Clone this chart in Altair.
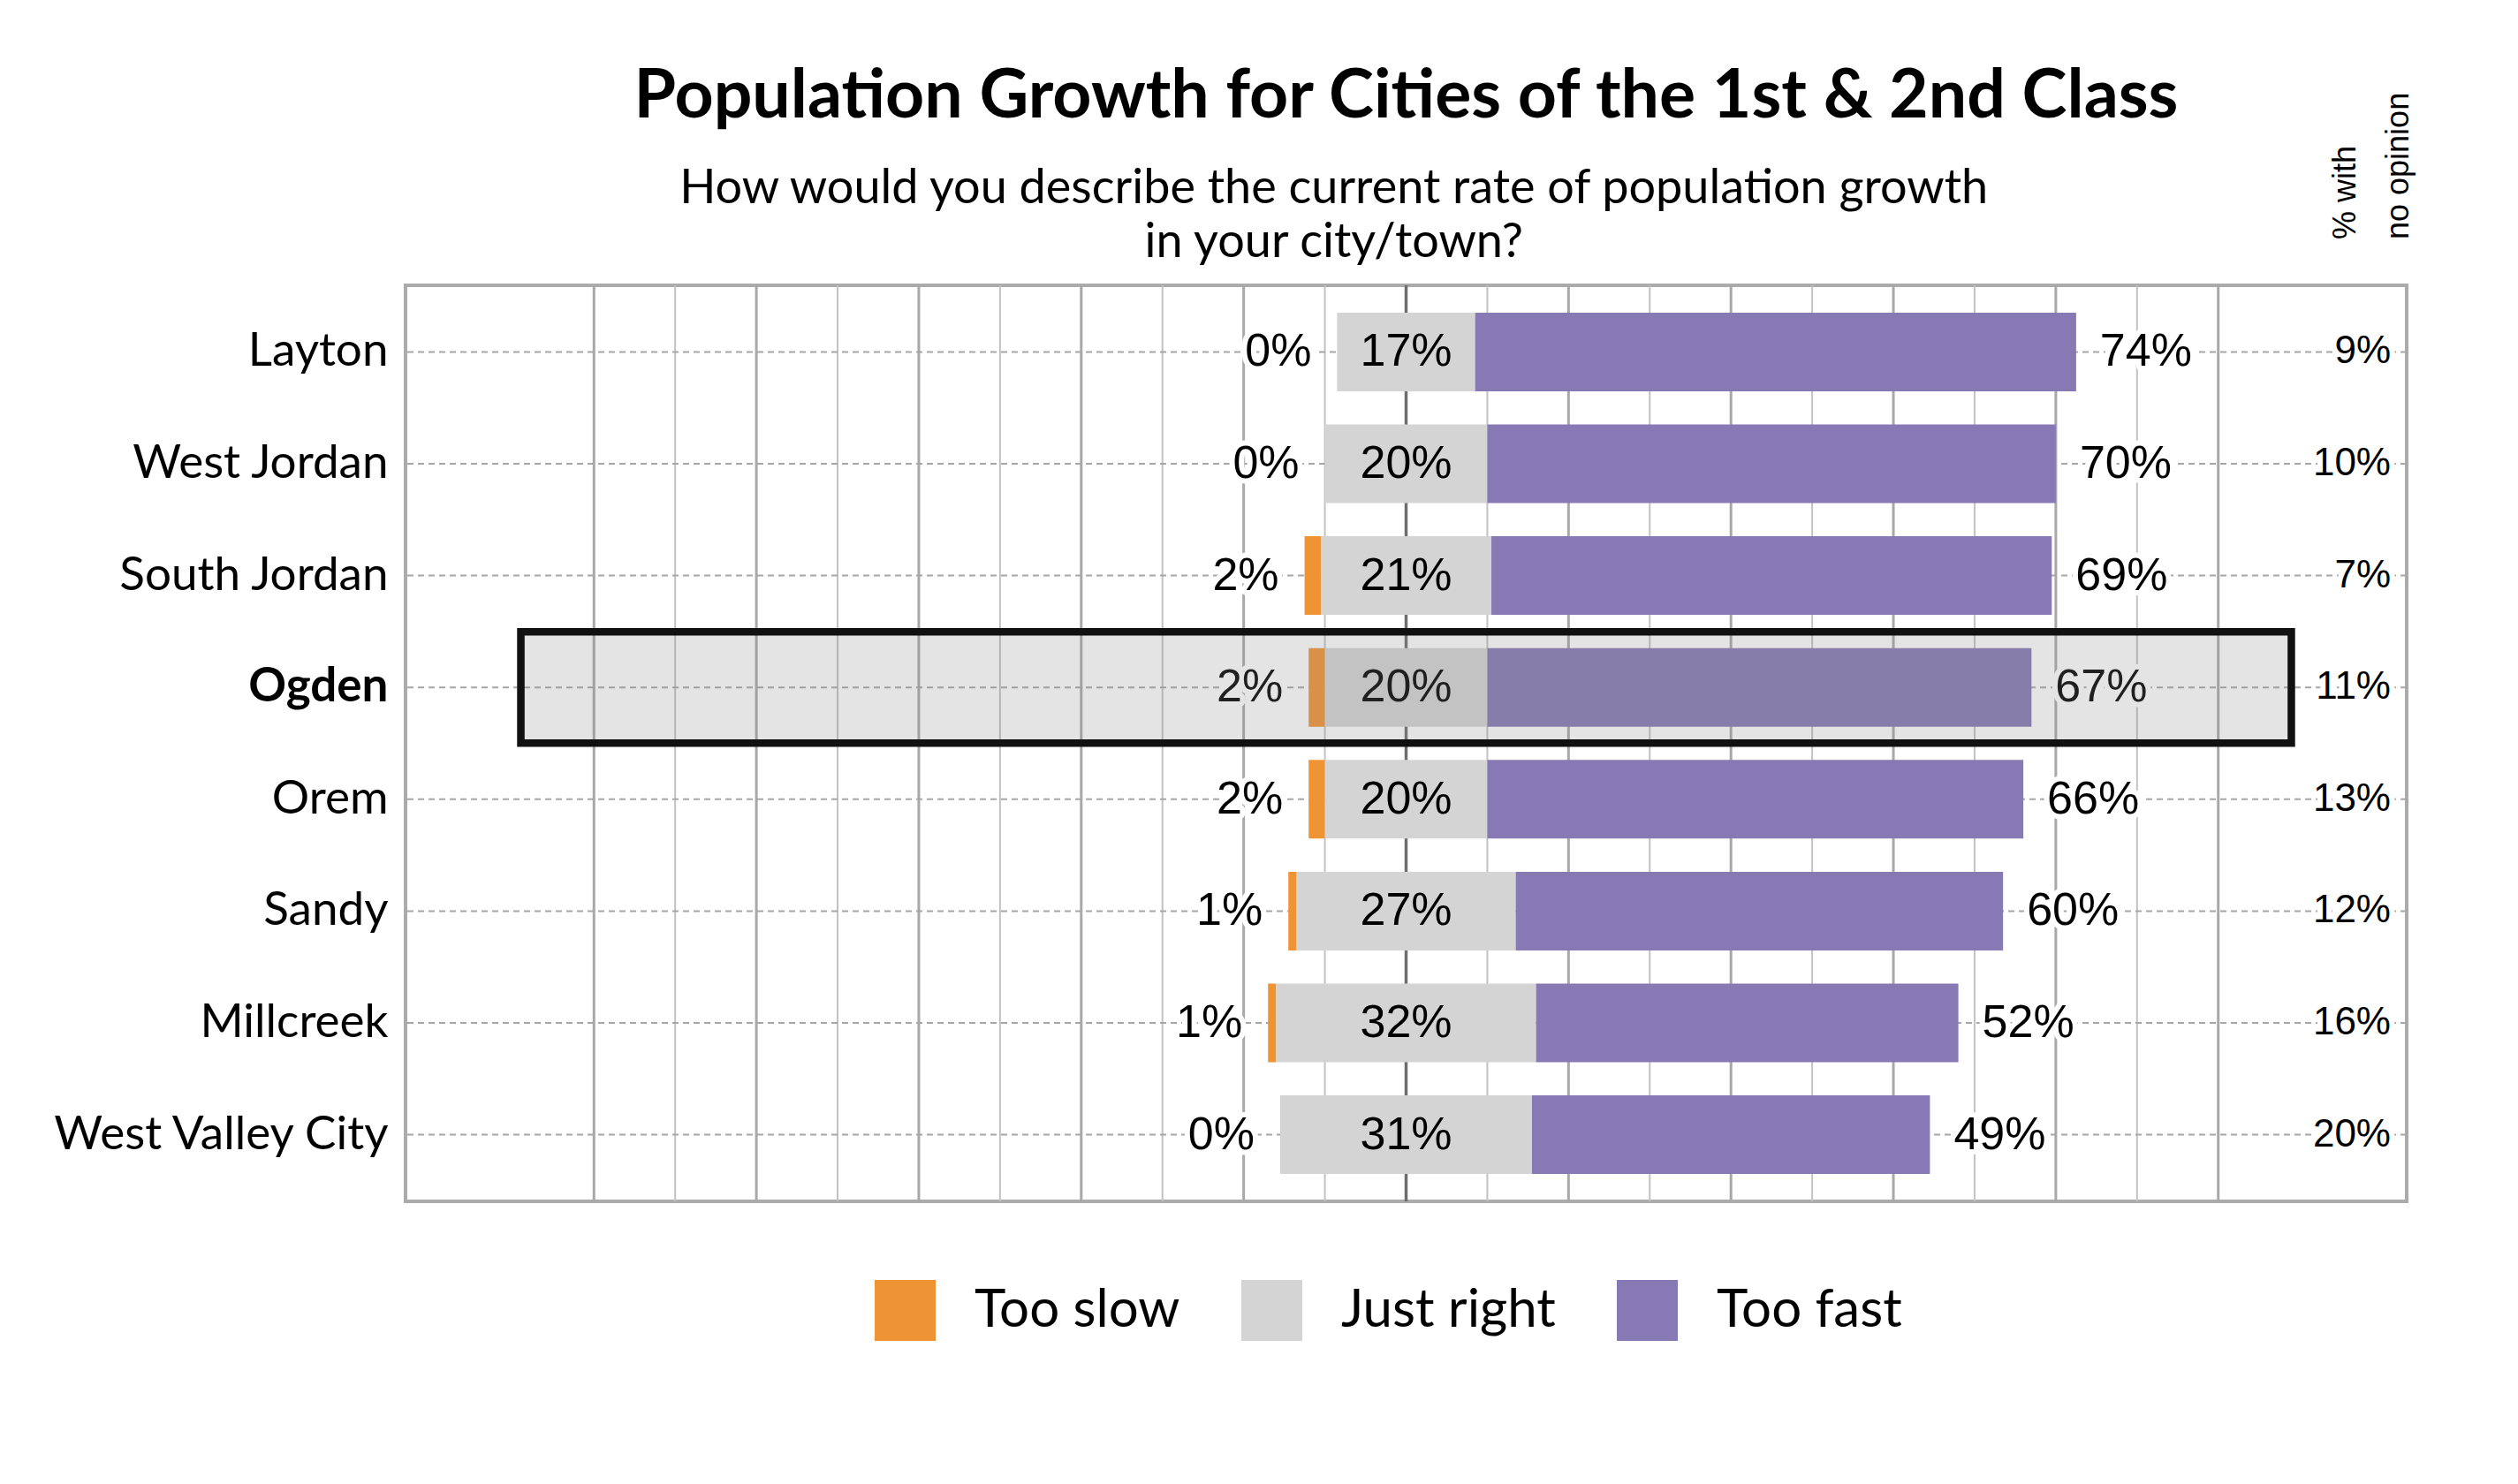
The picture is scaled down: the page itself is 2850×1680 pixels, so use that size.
import altair as alt
import pandas as pd

# ---------------- data ----------------
cities = ["Layton", "West Jordan", "South Jordan", "Ogden", "Orem",
          "Sandy", "Millcreek", "West Valley City"]
too_slow = [0, 0, 2, 2, 2, 1, 1, 0]
just_right = [17, 20, 21, 20, 20, 27, 32, 31]
too_fast = [74, 70, 69, 67, 66, 60, 52, 49]
no_opinion = [9, 10, 7, 11, 13, 12, 16, 20]

categories = ["Too slow", "Just right", "Too fast"]
colors = ["#ee9434", "#d4d4d4", "#8779b4"]

grid_values = list(range(-100, 101, 10))
x_domain = [-123.2, 123.2]

highlight_city = "Ogden"
highlight_extent = 109

title_text = "Population Growth for Cities of the 1st & 2nd Class"
subtitle_lines = ["How would you describe the current rate of population growth",
                  "in your city/town?"]
header_lines = ["% with", "no opinion"]

# ---------------- tables ----------------
rows = []
for c, s, j, f in zip(cities, too_slow, just_right, too_fast):
    left = -j / 2
    rows.append(dict(city=c, cat="Too slow", start=left - s, end=left))
    rows.append(dict(city=c, cat="Just right", start=left, end=j / 2))
    rows.append(dict(city=c, cat="Too fast", start=j / 2, end=j / 2 + f))
bars = pd.DataFrame(rows)

labels = pd.DataFrame({
    "city": cities,
    "slow_x": [-j / 2 - s for s, j in zip(too_slow, just_right)],
    "mid_x": [0.0] * len(cities),
    "fast_x": [j / 2 + f for j, f in zip(just_right, too_fast)],
    "slow_t": [f"{v}%" for v in too_slow],
    "jr_t": [f"{v}%" for v in just_right],
    "fast_t": [f"{v}%" for v in too_fast],
    "no_t": [f"{v}%" for v in no_opinion],
})

grid_df = pd.DataFrame({"v": grid_values})
hl_df = pd.DataFrame({"city": [highlight_city],
                      "x0": [-highlight_extent], "x1": [highlight_extent]})

# ---------------- encodings ----------------
xs = alt.Scale(domain=x_domain, nice=False, zero=False)
y_enc = alt.Y(
    "city:N", sort=cities,
    scale=alt.Scale(domain=cities, paddingInner=0.297, paddingOuter=0.244),
    axis=alt.Axis(
        title=None, domain=False, ticks=False, tickSize=0, grid=False,
        labelFont="Lato", labelFontSize=53, labelColor="black",
        labelPadding=20, labelLimit=1000,
        labelFontWeight={"condition": {"test": "datum.value === 'Ogden'", "value": "bold"},
                         "value": "normal"},
    ),
)

NUMFONT = "Liberation Sans"
NUMSIZE = 52

# grid
grid_minor = alt.Chart(grid_df).transform_filter("datum.v % 20 !== 0").mark_rule(
    color="#c2c2c2", strokeWidth=2).encode(x=alt.X("v:Q", scale=xs, axis=None))
grid_major = alt.Chart(grid_df).transform_filter("datum.v % 20 === 0 && datum.v !== 0").mark_rule(
    color="#a8a8a8", strokeWidth=3).encode(x=alt.X("v:Q", scale=xs, axis=None))
grid_zero = alt.Chart(grid_df).transform_filter("datum.v === 0").mark_rule(
    color="#6e6e6e", strokeWidth=3.5).encode(x=alt.X("v:Q", scale=xs, axis=None))

row_rules = alt.Chart(labels).mark_rule(
    color="#a6a6a6", strokeWidth=2, strokeDash=[7, 5]).encode(y=y_enc)

bar_layer = alt.Chart(bars).mark_bar(opacity=1).encode(
    y=y_enc,
    x=alt.X("start:Q", scale=xs, axis=None),
    x2="end:Q",
    color=alt.Color(
        "cat:N",
        scale=alt.Scale(domain=categories, range=colors),
        legend=alt.Legend(
            orient="none", legendX=531, legendY=1126, direction="horizontal",
            title=None, symbolType="square", symbolSize=4761, symbolStrokeWidth=0,
            symbolOpacity=1, labelFont="Lato", labelFontSize=60, labelColor="black",
            labelOffset=44, columnPadding=69, padding=0, labelLimit=1000,
        ),
    ),
)

halo = dict(fill="white", stroke="white", strokeWidth=12, strokeJoin="round",
            font=NUMFONT, fontSize=NUMSIZE, baseline="middle")
txt = dict(color="black", font=NUMFONT, fontSize=NUMSIZE, baseline="middle")

base_lab = alt.Chart(labels)

slow_halo = base_lab.mark_text(align="right", dx=-29, **halo).encode(
    y=y_enc, x=alt.X("slow_x:Q", scale=xs, axis=None), text="slow_t:N")
fast_halo = base_lab.mark_text(align="left", dx=27, **halo).encode(
    y=y_enc, x=alt.X("fast_x:Q", scale=xs, axis=None), text="fast_t:N")
no_halo = base_lab.mark_text(align="right", dx=-18, fill="white", stroke="white",
                             strokeWidth=12, strokeJoin="round", font=NUMFONT,
                             fontSize=44, baseline="middle").encode(
    y=y_enc, x=alt.value("width"), text="no_t:N")

slow_txt = base_lab.mark_text(align="right", dx=-29, **txt).encode(
    y=y_enc, x=alt.X("slow_x:Q", scale=xs, axis=None), text="slow_t:N")
jr_txt = base_lab.mark_text(align="center", **txt).encode(
    y=y_enc, x=alt.X("mid_x:Q", scale=xs, axis=None), text="jr_t:N")
fast_txt = base_lab.mark_text(align="left", dx=27, **txt).encode(
    y=y_enc, x=alt.X("fast_x:Q", scale=xs, axis=None), text="fast_t:N")
no_txt = base_lab.mark_text(align="right", dx=-18, color="black", font=NUMFONT,
                            fontSize=44, baseline="middle").encode(
    y=y_enc, x=alt.value("width"), text="no_t:N")

highlight = alt.Chart(hl_df).mark_bar(
    height=126, fill="#8c8c8c", fillOpacity=0.23, stroke="#111111",
    strokeWidth=8.5, strokeOpacity=1).encode(
    y=y_enc, x=alt.X("x0:Q", scale=xs, axis=None), x2="x1:Q")

title_layer = alt.Chart(pd.DataFrame({"t": [title_text]})).mark_text(
    font="Lato", fontSize=77, fontWeight="bold", color="black",
    align="center", baseline="alphabetic").encode(
    x=alt.datum(0), y=alt.value(-190), text="t:N")

subtitle_layer = alt.Chart(pd.DataFrame({"t": ["\n".join(subtitle_lines)]})).mark_text(
    font="Lato", fontSize=54, color="black", align="center",
    baseline="alphabetic", lineBreak="\n", lineHeight=61).encode(
    x=alt.datum(-8.9), y=alt.value(-93), text="t:N")

header_layer = alt.Chart(pd.DataFrame({"t": ["\n".join(header_lines)]})).mark_text(
    font="Liberation Sans", fontSize=36, color="black",
    align="left", baseline="alphabetic", angle=270, lineBreak="\n",
    lineHeight=60).encode(
    x=alt.value(2207), y=alt.value(-52), text="t:N")

chart = alt.layer(
    grid_minor, grid_major, grid_zero, row_rules, bar_layer,
    slow_halo, fast_halo, no_halo,
    slow_txt, jr_txt, fast_txt, no_txt,
    highlight, title_layer, subtitle_layer, header_layer,
).properties(
    width=2265, height=1037,
    padding={"left": 451, "top": 315, "right": 110, "bottom": 304},
    autosize=alt.AutoSizeParams(type="none"),
    background="white",
).configure_view(stroke="#ababab", strokeWidth=4)

chart.save("out.html", embed_options={"renderer": "svg", "actions": False})
